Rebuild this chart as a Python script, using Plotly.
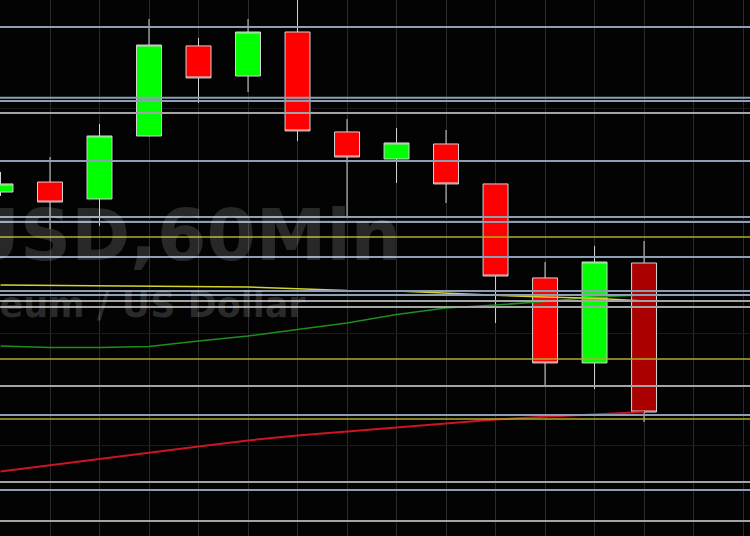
import plotly.graph_objects as go

# ---- data (hourly candles, ETH/USD) ----
idx = list(range(14))
opens  = [1842.56, 1843.45, 1841.94, 1847.55, 1855.57, 1852.89, 1856.81, 1847.91, 1845.50, 1846.84, 1843.28, 1834.91, 1827.34, 1836.24]
highs  = [1844.35, 1845.68, 1848.62, 1857.97, 1856.28, 1857.97, 1860.55, 1849.06, 1848.26, 1848.09, 1843.28, 1836.33, 1837.76, 1838.20]
lows   = [1842.21, 1839.27, 1839.54, 1847.50, 1850.49, 1851.47, 1847.11, 1840.43, 1843.37, 1841.58, 1830.90, 1825.38, 1825.02, 1822.08]
closes = [1843.28, 1841.67, 1847.55, 1855.65, 1852.72, 1856.81, 1848.00, 1845.68, 1846.93, 1843.28, 1835.08, 1827.34, 1836.33, 1822.97]

ma_yellow = [1834.28, 1834.24, 1834.21, 1834.19, 1834.15, 1834.10, 1833.95, 1833.79, 1833.75, 1833.53, 1833.37, 1833.21, 1833.10, 1832.86]
ma_green  = [1828.85, 1828.72, 1828.72, 1828.81, 1829.30, 1829.74, 1830.32, 1830.90, 1831.66, 1832.23, 1832.50, 1832.81, 1833.21, 1833.39]
ma_red    = [1817.68, 1818.25, 1818.82, 1819.38, 1819.90, 1820.44, 1820.88, 1821.24, 1821.58, 1821.97, 1822.31, 1822.55, 1822.77, 1822.97]

levels_blue   = [1857.26, 1850.96, 1850.67, 1845.32, 1840.34, 1839.89, 1836.78, 1833.75, 1833.39, 1822.71, 1816.03]
levels_gray   = [1849.60, 1832.86, 1832.32, 1825.29, 1816.74, 1813.27]
levels_yellow = [1838.56, 1827.69, 1822.35]

watermark_title = "ETHUSD,60Min"
watermark_sub = "Ethereum / US Dollar"

x_range = [-0.01, 15.14]
y_range = [1811.93, 1859.66]

fig = go.Figure()

wick = "#d4d4d4"
fig.add_trace(go.Candlestick(
    x=idx[:-1], open=opens[:-1], high=highs[:-1], low=lows[:-1], close=closes[:-1],
    increasing=dict(fillcolor="#00ff00", line=dict(color=wick, width=1)),
    decreasing=dict(fillcolor="#ff0000", line=dict(color=wick, width=1)),
    showlegend=False, hoverinfo="skip"))
fig.add_trace(go.Candlestick(
    x=idx[-1:], open=opens[-1:], high=highs[-1:], low=lows[-1:], close=closes[-1:],
    increasing=dict(fillcolor="#00ff00", line=dict(color=wick, width=1)),
    decreasing=dict(fillcolor="#aa0000", line=dict(color=wick, width=1)),
    showlegend=False, hoverinfo="skip"))

for v in levels_blue:
    fig.add_hline(y=v, line=dict(color="#8e9fb4", width=2))
for v in levels_gray:
    fig.add_hline(y=v, line=dict(color="#a4a4a4", width=2))
for v in levels_yellow:
    fig.add_hline(y=v, line=dict(color="#aeae2c", width=1.5))

fig.add_trace(go.Scatter(x=idx, y=ma_green, mode="lines",
                         line=dict(color="#1e8e1e", width=1.5), showlegend=False, hoverinfo="skip"))
fig.add_trace(go.Scatter(x=idx, y=ma_red, mode="lines",
                         line=dict(color="#cc1424", width=2), showlegend=False, hoverinfo="skip"))
fig.add_trace(go.Scatter(x=idx, y=ma_yellow, mode="lines",
                         line=dict(color="#d4d42c", width=1.5), showlegend=False, hoverinfo="skip"))

fig.add_annotation(text=watermark_title, xref="paper", yref="paper",
                   x=403 / 750, y=1 - 235 / 536, xanchor="right", yanchor="middle",
                   showarrow=False,
                   font=dict(family="DejaVu Sans", size=71, color="rgba(255,255,255,0.15)", weight="bold"))
fig.add_annotation(text=watermark_sub, xref="paper", yref="paper",
                   x=308 / 750, y=1 - 305 / 536, xanchor="right", yanchor="middle",
                   showarrow=False,
                   font=dict(family="DejaVu Sans", size=35, color="rgba(255,255,255,0.16)", weight="bold"))

fig.update_layout(
    width=750, height=536,
    margin=dict(l=0, r=0, t=0, b=0),
    paper_bgcolor="#030303", plot_bgcolor="#030303",
    boxgap=0.3, boxgroupgap=0.28,
    showlegend=False,
    xaxis=dict(range=x_range, showticklabels=False, ticks="", showgrid=True,
               gridcolor="#2a2a2a", gridwidth=1, dtick=1, tick0=0, zeroline=False,
               showline=False, rangeslider=dict(visible=False), fixedrange=True),
    yaxis=dict(range=y_range, showticklabels=False, ticks="", showgrid=True,
               gridcolor="#1a1a1a", gridwidth=1, dtick=10, tick0=1850, zeroline=False,
               showline=False, fixedrange=True),
)

fig.write_html(
    "out.html",
    config={"displayModeBar": False, "staticPlot": True},
    post_script="document.body.style.margin='0';document.body.style.padding='0';"
                "document.body.style.background='#030303';document.body.style.overflow='hidden';",
)
